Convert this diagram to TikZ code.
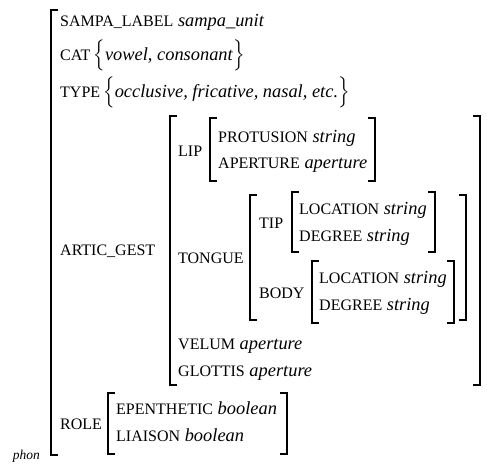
\documentclass[tikz,border=0pt]{standalone}
\usepackage{fontspec}
\setmainfont{Liberation Serif}
\usepackage{tikz}
\usepackage{amsmath}
\newcommand{\feat}[1]{{\fontsize{16}{19}\selectfont #1}}
\newcommand{\avml}[3]{\draw[brk] (#1+7,#2) -- (#1,#2) -- (#1,#3) -- (#1+7,#3);}
\newcommand{\avmr}[3]{\draw[brk] (#1-7,#2) -- (#1,#2) -- (#1,#3) -- (#1-7,#3);}
\tikzset{
  row/.style={anchor=base west, inner sep=0pt, font=\fontsize{18.4}{22}\selectfont},
  brk/.style={line width=1.7pt, line cap=butt, line join=miter}
}
\begin{document}
\begin{tikzpicture}[x=1pt,y=-1pt]
\useasboundingbox (0,0) rectangle (487,463);
\node[row] (sampa) at (60,27) {\feat{SAMPA\_LABEL} \textit{sampa\_unit}};
\node[row] (cat) at (60,60) {\feat{CAT}\,$\Bigl\{$\textit{vowel, consonant}$\Bigr\}$};
\node[row] (type) at (60,97) {\feat{TYPE}\,$\Bigl\{$\textit{occlusive, fricative, nasal, etc.}$\Bigr\}$};
\node[row] (artic) at (60,255) {\feat{ARTIC\_GEST}};
\node[row] (lip) at (178,156) {\feat{LIP}};
\node[row] (protusion) at (218,142) {\feat{PROTUSION} \textit{string}};
\node[row] (aperture) at (218,168) {\feat{APERTURE} \textit{aperture}};
\node[row] (tongue) at (178,263) {\feat{TONGUE}};
\node[row] (tip) at (259,228) {\feat{TIP}};
\node[row] (tiploc) at (299,214) {\feat{LOCATION} \textit{string}};
\node[row] (tipdeg) at (299,241) {\feat{DEGREE} \textit{string}};
\node[row] (body) at (259,298) {\feat{BODY}};
\node[row] (bodyloc) at (319,283) {\feat{LOCATION} \textit{string}};
\node[row] (bodydeg) at (319,310) {\feat{DEGREE} \textit{string}};
\node[row] (velum) at (178,349) {\feat{VELUM} \textit{aperture}};
\node[row] (glottis) at (178,376) {\feat{GLOTTIS} \textit{aperture}};
\node[row] (role) at (60,429) {\feat{ROLE}};
\node[row] (epen) at (116,414) {\feat{EPENTHETIC} \textit{boolean}};
\node[row] (liaison) at (116,441) {\feat{LIAISON} \textit{boolean}};
\node[anchor=base east, inner sep=0pt, font=\fontsize{13.5}{16}\selectfont\itshape] (phon) at (40,459) {phon};
\avml{51}{10}{455}
\avml{170}{116}{385} \avmr{480}{116}{385}
\avml{210}{118}{181} \avmr{375}{118}{181}
\avml{250}{195}{320} \avmr{466}{195}{320}
\avml{292}{192}{252} \avmr{435}{192}{252}
\avml{312}{261}{323} \avmr{454}{261}{323}
\avml{108}{393}{454} \avmr{287}{393}{454}
\end{tikzpicture}
\end{document}
